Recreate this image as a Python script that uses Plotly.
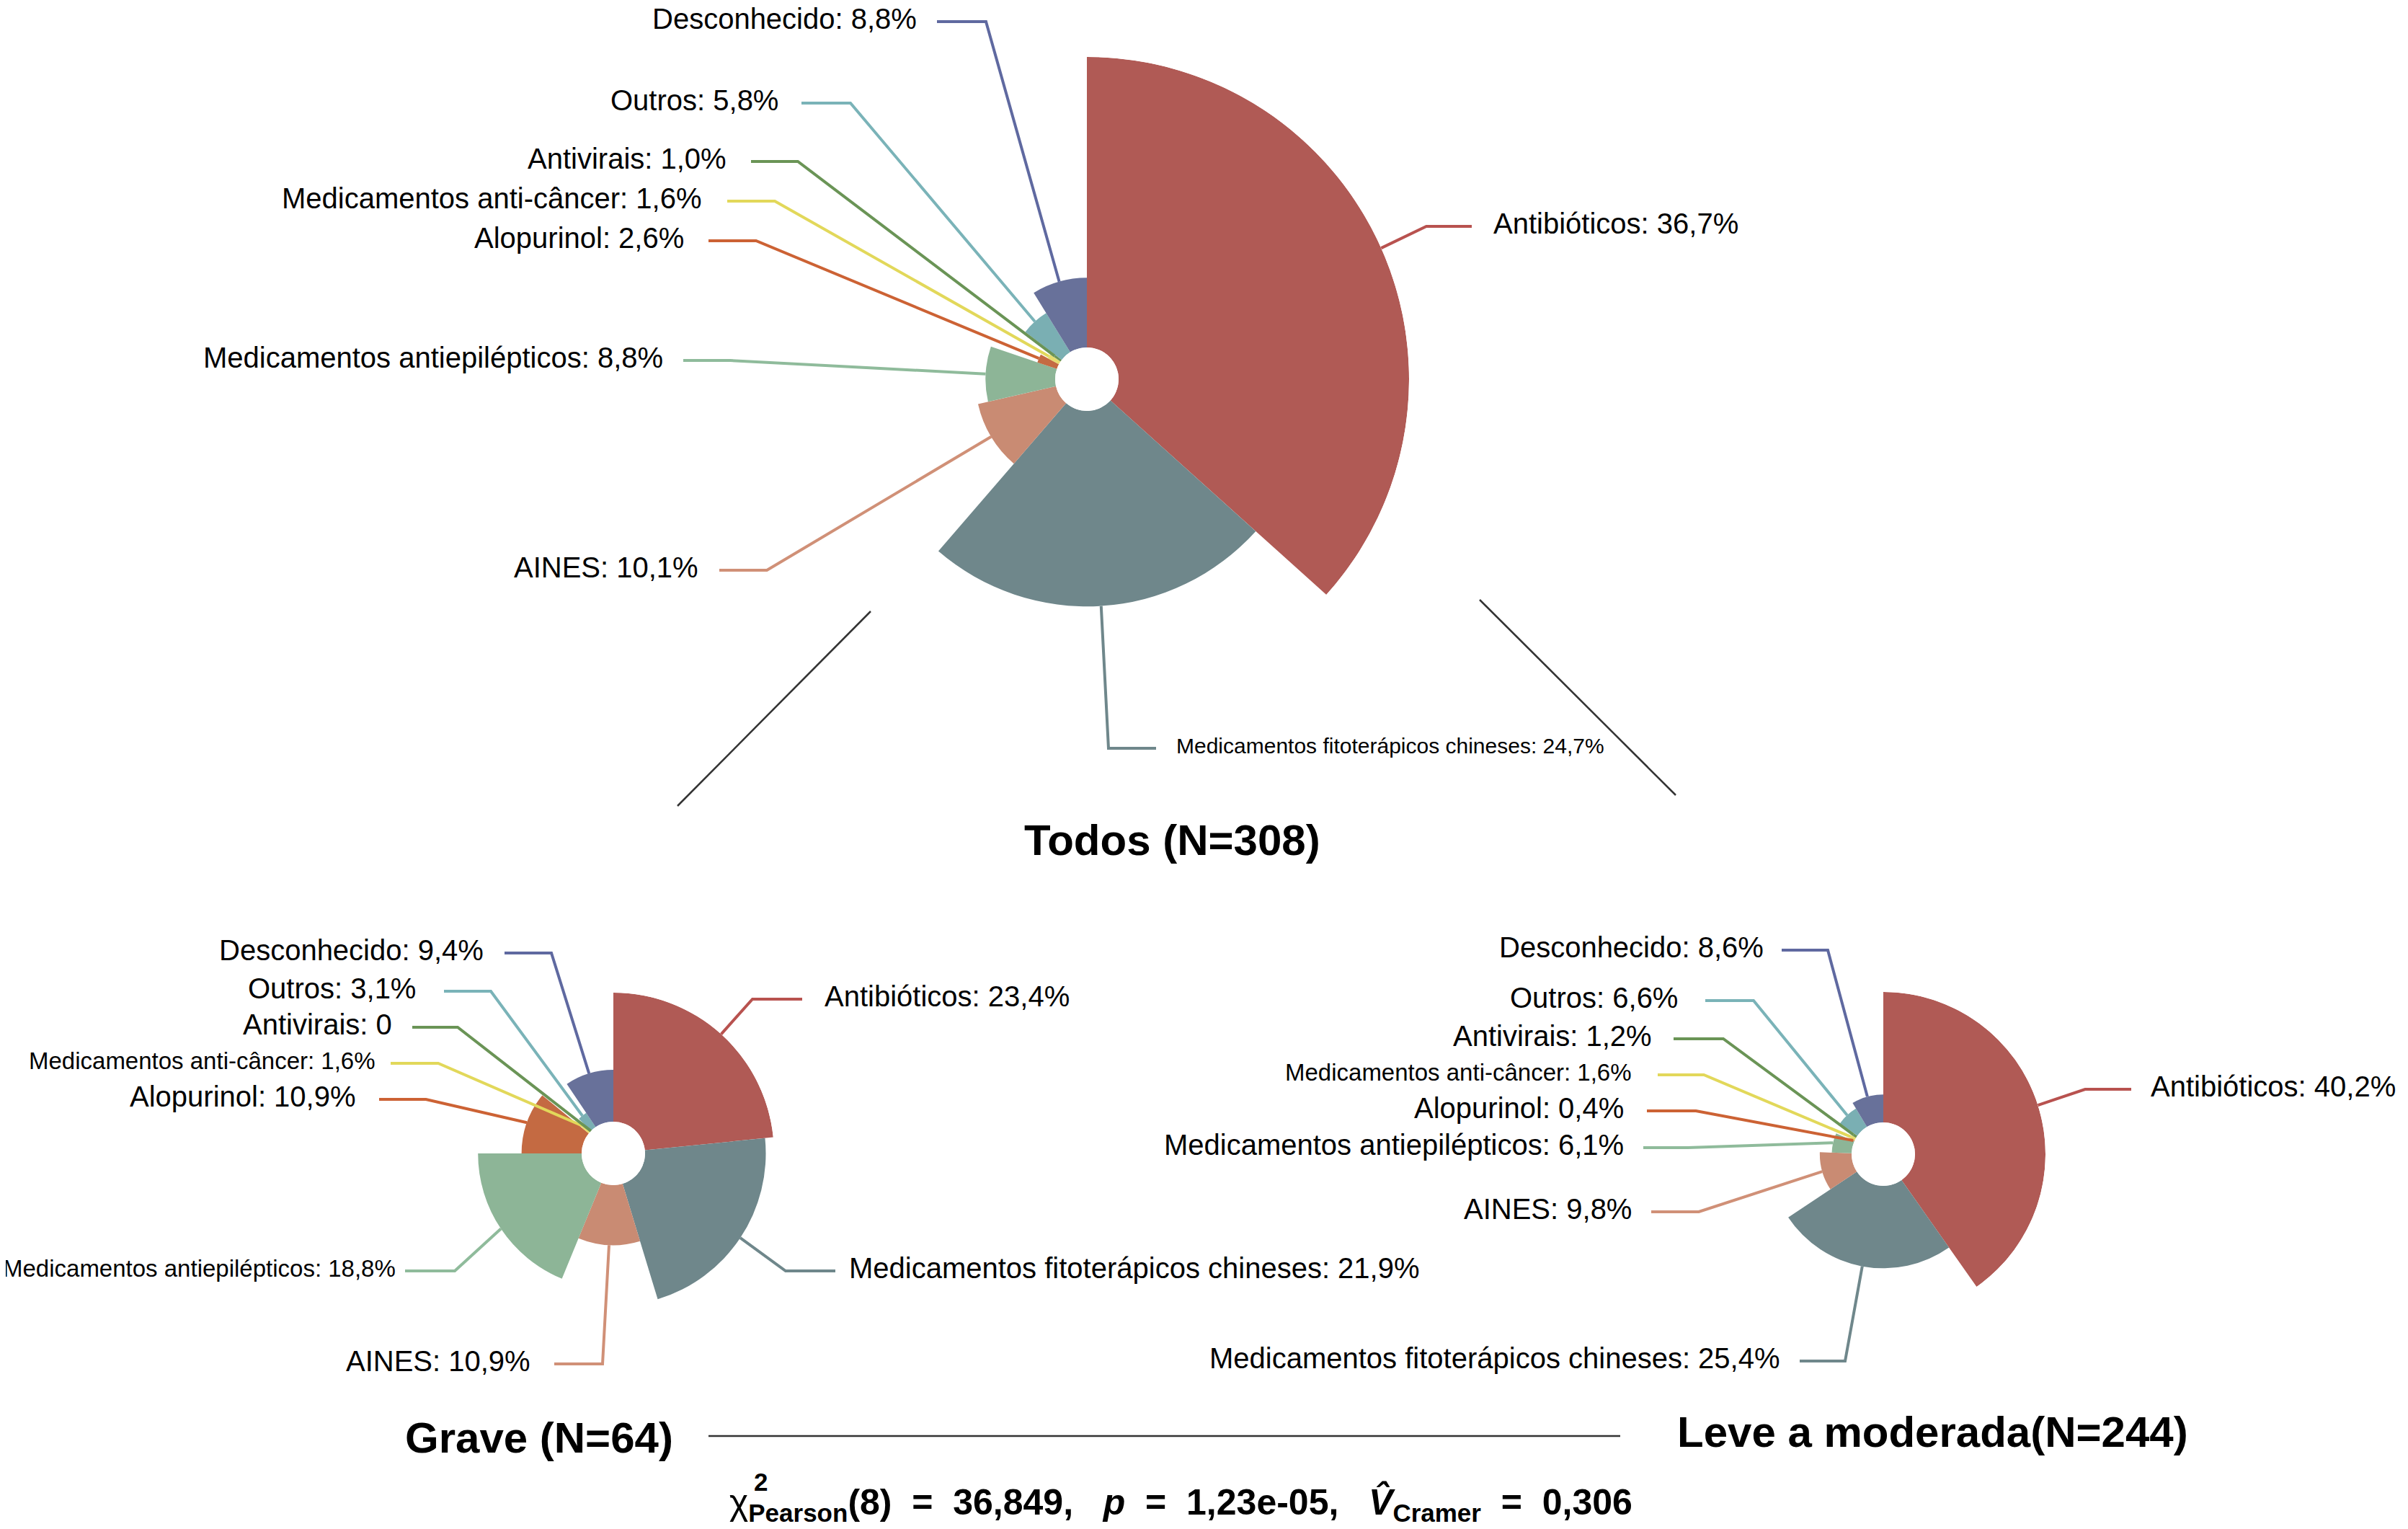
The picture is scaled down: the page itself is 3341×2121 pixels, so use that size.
import math
import plotly.graph_objects as go

W, H = 3341, 2121
OFF = 8                      # page body margin of the html page
WF, HF = W - 2 * OFF, H - 2 * OFF

# ---------------- data ----------------
categories = ["Antibióticos", "Medicamentos fitoterápicos chineses", "AINES",
              "Medicamentos antiepilépticos", "Alopurinol", "Medicamentos anti-câncer",
              "Antivirais", "Outros", "Desconhecido"]
todos_pct = [36.7, 24.7, 10.1, 8.8, 2.6, 1.6, 1.0, 5.8, 8.8]
grave_pct = [23.4, 21.9, 10.9, 18.8, 10.9, 1.6, 0.0, 3.1, 9.4]
leve_pct = [40.2, 25.4, 9.8, 6.1, 0.4, 1.6, 1.2, 6.6, 8.6]
todos_txt = ["36,7%", "24,7%", "10,1%", "8,8%", "2,6%", "1,6%", "1,0%", "5,8%", "8,8%"]
grave_txt = ["23,4%", "21,9%", "10,9%", "18,8%", "10,9%", "1,6%", "0", "3,1%", "9,4%"]
leve_txt = ["40,2%", "25,4%", "9,8%", "6,1%", "0,4%", "1,6%", "1,2%", "6,6%", "8,6%"]
titles = ["Todos (N=308)", "Grave (N=64)", "Leve a moderada(N=244)"]
SP = "&nbsp;&nbsp;&nbsp;"
EQ = "&nbsp;&nbsp;=&nbsp;&nbsp;"
stats_text = (f"χ<b><sub>Pearson</sub>(8){EQ}36,849,{SP}<i>p</i>{EQ}1,23e-05,{SP}"
              f"<i>V̂</i><sub>Cramer</sub>{EQ}0,306</b>")

# ---------------- styles ----------------
slice_colors = ["#B05A55", "#6F878B", "#C98B73", "#8DB597", "#C46A42",
                "#E6DC6E", "#6A9456", "#7AAFB3", "#68719A"]
line_colors = ["#B8524F", "#6F878B", "#D09077", "#8FBB9B", "#CC6234",
               "#E2D85A", "#6A9456", "#7AB3B8", "#5F69A0"]
FONT = "Liberation Sans, Arial, Helvetica, sans-serif"

# chart geometry (pixels): center x, center y, outer radius, hole radius
charts = [
    dict(cx=1508, cy=526, R=447, hole=44, pct=todos_pct, txt=todos_txt),
    dict(cx=851, cy=1600, R=223, hole=44, pct=grave_pct, txt=grave_txt),
    dict(cx=2613, cy=1601, R=225, hole=44, pct=leve_pct, txt=leve_txt),
]
# label layout per category: (side, text_x, line_y, h_end_x, elbow_x, font_size)
label_layout = [
    [("R", 2070, 314, 2042, 1979, 40), ("R", 1630, 1038, 1604, 1538, 30),
     ("L", 971, 791, 998, 1064, 40), ("L", 922, 500, 948, 1013, 40),
     ("L", 951, 334, 983, 1049, 40), ("L", 976, 279, 1009, 1075, 40),
     ("L", 1010, 224, 1042, 1107, 40), ("L", 1082, 143, 1112, 1180, 40),
     ("L", 1274, 30, 1300, 1368, 40)],
    [("R", 1142, 1386, 1113, 1044, 40), ("R", 1176, 1763, 1159, 1090, 40),
     ("L", 738, 1892, 769, 836, 40), ("L", 551, 1763, 562, 631, 33),
     ("L", 496, 1525, 526, 591, 40), ("L", 523, 1475, 542, 608, 33),
     ("L", 546, 1425, 572, 635, 40), ("L", 579, 1375, 616, 681, 40),
     ("L", 673, 1322, 700, 765, 40)],
    [("R", 2982, 1511, 2957, 2893, 40), ("L", 2472, 1888, 2497, 2560, 40),
     ("L", 2266, 1681, 2291, 2357, 40), ("L", 2255, 1592, 2280, 2342, 40),
     ("L", 2255, 1541, 2285, 2353, 40), ("L", 2266, 1491, 2300, 2364, 33),
     ("L", 2294, 1441, 2322, 2391, 40), ("L", 2330, 1388, 2366, 2433, 40),
     ("L", 2449, 1318, 2472, 2536, 40)],
]
title_pos = [(1626, 1165), (748, 1994), (2681, 1986)]


def px(x):
    return (x - OFF) / WF


def py(y):
    return 1 - (y - OFF) / HF


fig = go.Figure()
shapes = []
annotations = []

for k, ch in enumerate(charts):
    pct = ch["pct"]
    total = sum(pct)
    widths = [p / total * 360 for p in pct]
    thetas = []
    acc = 0
    for w in widths:
        thetas.append(acc + w / 2)
        acc += w
    name = "polar" if k == 0 else f"polar{k + 1}"
    fig.add_trace(go.Barpolar(
        r=pct, theta=thetas, width=widths,
        marker=dict(color=slice_colors, line=dict(width=0)),
        subplot=name, showlegend=False, hoverinfo="skip"))
    cx, cy, R, hole = ch["cx"], ch["cy"], ch["R"], ch["hole"]
    rmax = max(pct)
    fig.layout[name] = dict(
        domain=dict(x=[px(cx - R), px(cx + R)], y=[py(cy + R), py(cy - R)]),
        hole=hole / R, bgcolor="rgba(0,0,0,0)",
        radialaxis=dict(range=[0, rmax], showline=False, showgrid=False,
                        showticklabels=False, ticks=""),
        angularaxis=dict(rotation=90, direction="clockwise", showline=False,
                         showgrid=False, showticklabels=False, ticks=""),
    )
    # leader lines + labels
    for i, (side, tx, ly, hx, ex, fs) in enumerate(label_layout[k]):
        ang = math.radians(thetas[i])
        rp = hole + (R - hole) * pct[i] / rmax
        sx = cx + rp * math.sin(ang)
        sy = cy - rp * math.cos(ang)
        path = (f"M {px(sx)},{py(sy)} L {px(ex)},{py(ly)} L {px(hx)},{py(ly)}")
        shapes.append(dict(type="path", xref="paper", yref="paper", path=path,
                           line=dict(color=line_colors[i], width=4)))
        annotations.append(dict(
            x=px(tx), y=py(ly - 4), xref="paper", yref="paper",
            text=f"{categories[i]}: {ch['txt'][i]}", showarrow=False,
            xanchor="right" if side == "L" else "left", yanchor="middle",
            font=dict(family=FONT, size=fs, color="black")))

# titles
for t, (tx, ty) in zip(titles, title_pos):
    annotations.append(dict(x=px(tx), y=py(ty), xref="paper", yref="paper",
                            text=f"<b>{t}</b>", showarrow=False,
                            xanchor="center", yanchor="middle",
                            font=dict(family=FONT, size=60, color="black")))

# connecting lines
for (x0, y0, x1, y1) in [(1208, 848, 940, 1118), (2053, 832, 2325, 1103),
                         (983, 1992, 2248, 1992)]:
    shapes.append(dict(type="line", xref="paper", yref="paper",
                       x0=px(x0), y0=py(y0), x1=px(x1), y1=py(y1),
                       line=dict(color="#333333", width=2.5)))

# statistics
annotations.append(dict(x=px(1010), y=py(2086), xref="paper", yref="paper",
                        text=stats_text, showarrow=False, xanchor="left",
                        yanchor="middle",
                        font=dict(family=FONT, size=50, color="black")))
annotations.append(dict(x=px(1044), y=py(2055), xref="paper", yref="paper",
                        text="<b>2</b>", showarrow=False, xanchor="left",
                        yanchor="middle",
                        font=dict(family=FONT, size=35, color="black")))

fig.update_layout(width=WF, height=HF, margin=dict(l=0, r=0, t=0, b=0),
                  paper_bgcolor="white", plot_bgcolor="white",
                  shapes=shapes, annotations=annotations,
                  font=dict(family=FONT))

fig.write_html("out.html")
